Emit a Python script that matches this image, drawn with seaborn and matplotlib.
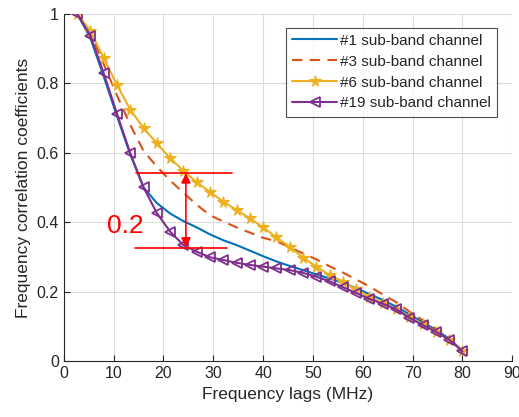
import numpy as np
import pandas as pd
import matplotlib
matplotlib.use("Agg")
import matplotlib.pyplot as plt
import seaborn as sns

# frequency lags (MHz), 30 points up to 80 MHz
lags = [2.67, 5.33, 8.0, 10.67, 13.33, 16.0, 18.67, 21.33, 24.0, 26.67,
        29.33, 32.0, 34.67, 37.33, 40.0, 42.67, 45.33, 48.0, 50.67, 53.33,
        56.0, 58.67, 61.33, 64.0, 66.67, 69.33, 72.0, 74.67, 77.33, 80.0]

ch1 = [1.0, 0.93, 0.82, 0.705, 0.595, 0.50, 0.455, 0.425, 0.403, 0.385,
       0.365, 0.348, 0.334, 0.318, 0.302, 0.287, 0.274, 0.262, 0.250, 0.238,
       0.225, 0.210, 0.193, 0.176, 0.157, 0.135, 0.112, 0.090, 0.065, 0.030]
ch3 = [1.0, 0.945, 0.855, 0.765, 0.68, 0.605, 0.56, 0.52, 0.485, 0.45,
       0.42, 0.402, 0.385, 0.37, 0.355, 0.345, 0.328, 0.31, 0.293, 0.273,
       0.255, 0.235, 0.215, 0.192, 0.17, 0.143, 0.118, 0.093, 0.066, 0.030]
ch6 = [1.0, 0.951, 0.872, 0.795, 0.724, 0.671, 0.627, 0.584, 0.548, 0.515,
       0.487, 0.459, 0.435, 0.411, 0.385, 0.356, 0.329, 0.298, 0.272, 0.248,
       0.229, 0.207, 0.185, 0.168, 0.150, 0.128, 0.106, 0.085, 0.062, 0.030]
ch19 = [1.0, 0.937, 0.829, 0.712, 0.599, 0.50, 0.426, 0.373, 0.334, 0.315,
        0.299, 0.291, 0.283, 0.277, 0.272, 0.267, 0.262, 0.254, 0.243, 0.230,
        0.213, 0.196, 0.179, 0.165, 0.150, 0.125, 0.104, 0.085, 0.062, 0.028]

labels = ["#1 sub-band channel", "#3 sub-band channel",
          "#6 sub-band channel", "#19 sub-band channel"]
colors = ["#0072BD", "#D95319", "#EDB120", "#7E2F8E"]

sns.set_style("white")
plt.rcParams['font.family'] = ['Liberation Sans', 'DejaVu Sans']

fig = plt.figure(figsize=(5.19, 4.17), dpi=100)
ax = fig.add_axes([0.123, 0.134, 0.864, 0.833])

sns.lineplot(x=lags, y=ch1, ax=ax, color=colors[0], linewidth=1.5, label=labels[0])
sns.lineplot(x=lags, y=ch3, ax=ax, color=colors[1], linewidth=1.5, label=labels[1])
ax.lines[-1].set_dashes([5, 3.5])
sns.lineplot(x=lags, y=ch6, ax=ax, color=colors[2], linewidth=1.5, marker="*",
             markersize=8.5, markeredgecolor=colors[2], label=labels[2])
sns.lineplot(x=lags, y=ch19, ax=ax, color=colors[3], linewidth=1.5, marker="<",
             markersize=7, markerfacecolor="none", markeredgecolor=colors[3],
             markeredgewidth=1.3, label=labels[3])

# 0.2 gap annotation
ax.plot([14.5, 33.8], [0.541, 0.541], color="red", linewidth=1.2)
ax.plot([14.2, 32.7], [0.327, 0.327], color="red", linewidth=1.2)
ax.annotate("", xy=(24.5, 0.541), xytext=(24.5, 0.327),
            arrowprops=dict(arrowstyle="<|-|>", color="red", lw=1.2,
                            mutation_scale=14, shrinkA=0, shrinkB=0))
ax.text(12.4, 0.39, "0.2", color="red", fontsize=19, ha="center", va="center")

ax.set_xlim(0, 90)
ax.set_ylim(0, 1)
ax.set_xticks(range(0, 91, 10))
ax.set_yticks([0, 0.2, 0.4, 0.6, 0.8, 1])
ax.set_yticklabels(["0", "0.2", "0.4", "0.6", "0.8", "1"])
ax.grid(True, color="#dcdcdc", linewidth=0.8)
ax.tick_params(direction="in", length=4, width=0.8, colors="#262626",
               labelsize=11.5, left=True, bottom=True)
for side in ["top", "right"]:
    ax.spines[side].set_visible(False)
for side in ["left", "bottom"]:
    ax.spines[side].set_color("#262626")
    ax.spines[side].set_linewidth(0.8)

ax.set_xlabel("Frequency lags (MHz)", fontsize=12.5, color="#262626")
ax.set_ylabel("Frequency correlation coefficients", fontsize=12.5, color="#262626")

leg = ax.legend(loc="upper right", bbox_to_anchor=(0.967, 0.960), fontsize=11,
                frameon=True, fancybox=False, edgecolor="#262626",
                handlelength=2.95, handletextpad=0.2, borderpad=0.4,
                labelspacing=0.45, borderaxespad=0.0)
leg.get_frame().set_linewidth(0.8)

fig.savefig("out.png", dpi=100)
